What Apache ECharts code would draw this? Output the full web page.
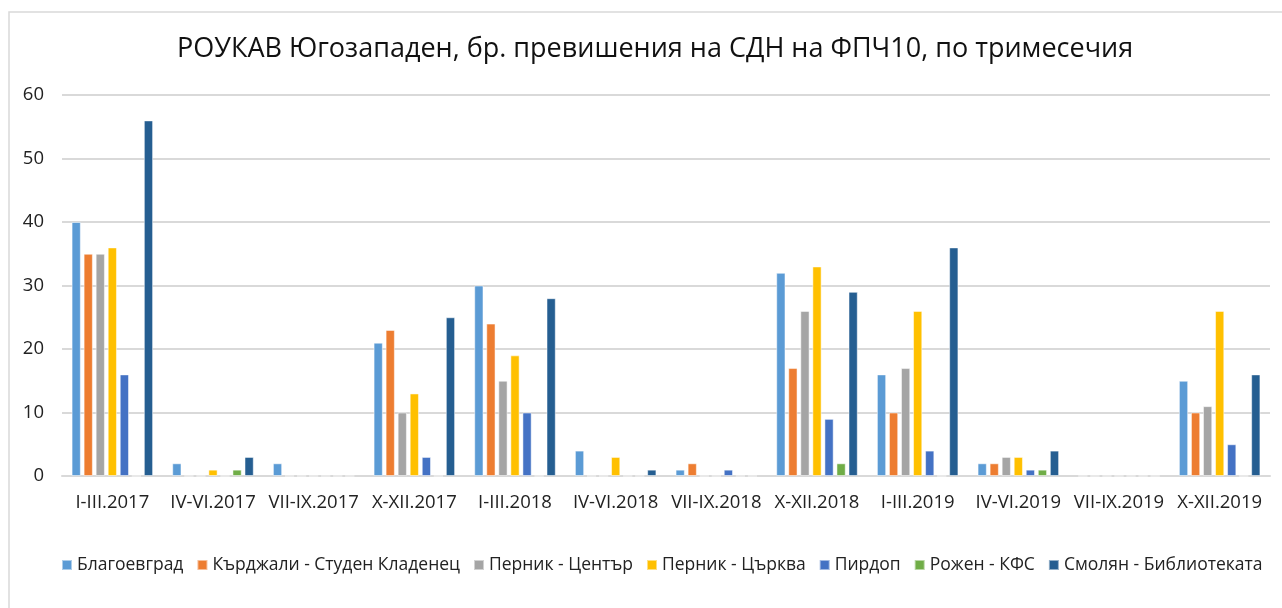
<!DOCTYPE html>
<html>
<head>
<meta charset="utf-8">
<script src="https://cdn.jsdelivr.net/npm/echarts@6/dist/echarts.min.js"></script>
<style>
  html, body { margin: 0; padding: 0; background: #fff; }
  #main { width: 1282px; height: 608px; }
</style>
</head>
<body>
<div id="main"></div>
<script>
// тримесечия
var quarters = ['I-III.2017', 'IV-VI.2017', 'VII-IX.2017', 'X-XII.2017',
                'I-III.2018', 'IV-VI.2018', 'VII-IX.2018', 'X-XII.2018',
                'I-III.2019', 'IV-VI.2019', 'VII-IX.2019', 'X-XII.2019'];

var stations = ['Благоевград', 'Кърджали - Студен Кладенец', 'Перник - Център',
                'Перник - Църква', 'Пирдоп', 'Рожен - КФС', 'Смолян - Библиотеката'];

var blagoevgrad = [40, 2, 2, 21, 30, 4, 1, 32, 16, 2, 0, 15];
var kardzhali   = [35, 0, 0, 23, 24, 0, 2, 17, 10, 2, 0, 10];
var pernikCentar = [35, 0, 0, 10, 15, 0, 0, 26, 17, 3, 0, 11];
var pernikCarkva = [36, 1, 0, 13, 19, 3, 0, 33, 26, 3, 0, 26];
var pirdop      = [16, 0, 0, 3, 10, 0, 1, 9, 4, 1, 0, 5];
var rozhen      = [0, 1, 0, 0, 0, 0, 0, 2, 0, 1, 0, 0];
var smolyan     = [56, 3, 0, 25, 28, 1, 0, 29, 36, 4, 0, 16];

var colors = ['#5B9BD5', '#ED7D31', '#A5A5A5', '#FFC000', '#4472C4', '#70AD47', '#255E91'];
var seriesData = [blagoevgrad, kardzhali, pernikCentar, pernikCarkva, pirdop, rozhen, smolyan];

var font = '"Open Sans", "Noto Sans", sans-serif';

var myChart = echarts.init(document.getElementById('main'));

var option = {
    color: colors,
    animation: false,
    title: {
        text: 'РОУКАВ Югозападен, бр. превишения на СДН на ФПЧ10, по тримесечия',
        left: 172,
        top: 31,
        textStyle: { fontFamily: font, fontSize: 27, fontWeight: 'normal', color: '#111' }
    },
    legend: {
        top: 551,
        left: 56,
        itemWidth: 10,
        itemHeight: 10,
        itemGap: 13,
        icon: 'rect',
        textStyle: { fontFamily: font, fontSize: 17.5, color: '#222' },
        data: stations
    },
    grid: { left: 62, right: 12, top: 95, bottom: 132 },
    xAxis: {
        type: 'category',
        data: quarters,
        axisLine: { lineStyle: { color: '#d9d9d9', width: 2 } },
        axisTick: { show: false },
        axisLabel: { fontFamily: font, fontSize: 18.5, color: '#222', margin: 17, interval: 0 }
    },
    yAxis: {
        type: 'value',
        min: 0,
        max: 60,
        interval: 10,
        axisLine: { show: false },
        axisTick: { show: false },
        splitLine: { lineStyle: { color: '#d9d9d9', width: 2 } },
        axisLabel: { fontFamily: font, fontSize: 18.5, color: '#222', margin: 18 }
    },
    graphic: [{
        type: 'rect',
        shape: { x: 9, y: 12, width: 1300, height: 620 },
        style: { fill: 'none', stroke: '#d9d9d9', lineWidth: 1.5 },
        silent: true
    }],
    series: stations.map(function (name, i) {
        return {
            name: name,
            type: 'bar',
            data: seriesData[i],
            barGap: '30%',
            barCategoryGap: '19%',
            itemStyle: { borderColor: 'rgba(255,255,255,0.5)', borderWidth: 1 }
        };
    })
};

myChart.setOption(option);
</script>
</body>
</html>
